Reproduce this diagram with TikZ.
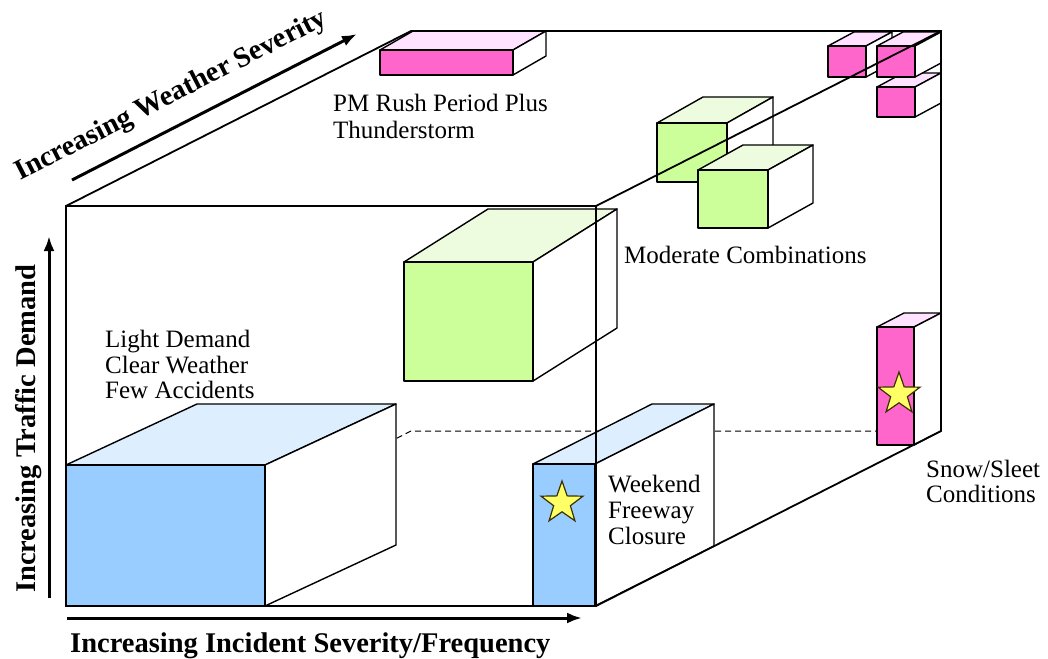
\documentclass[tikz,border=0pt]{standalone}
\usepackage{fontspec}
\setmainfont{Liberation Serif}
\usetikzlibrary{shapes.geometric,arrows.meta}
\definecolor{pinkfront}{HTML}{FF66CC}
\definecolor{pinktop}{HTML}{FFE2FF}
\definecolor{greenfront}{HTML}{CCFF99}
\definecolor{greentop}{HTML}{EDFCDF}
\definecolor{bluefront}{HTML}{99CCFF}
\definecolor{bluetop}{HTML}{DDEEFF}
\definecolor{staryellow}{HTML}{FFFF66}
\definecolor{starline}{HTML}{3A3000}
% #1 x1, #2 y1 (front top-left), #3 x2, #4 y2 (front bottom-right), #5 dx, #6 dy (depth), #7 front colour, #8 top colour
\newcommand{\isobox}[8]{%
  \filldraw[boxedge, fill=#8] (#1,#2) -- ({#1+#5},{#2+#6}) -- ({#3+#5},{#2+#6}) -- (#3,#2) -- cycle;
  \filldraw[boxedge, fill=white] (#3,#2) -- ({#3+#5},{#2+#6}) -- ({#3+#5},{#4+#6}) -- (#3,#4) -- cycle;
  \filldraw[boxedge, fill=#7] (#1,#2) rectangle (#3,#4);
}
\begin{document}
\begin{tikzpicture}[x=1pt,y=-1pt,
  boxedge/.style={draw=black, line width=1.4pt, line join=round},
  frameline/.style={line width=1.8pt, line cap=round},
  frontline/.style={line width=2.4pt, line join=miter},
  hiddenline/.style={line width=1pt, dash pattern=on 6pt off 4pt},
  lbl/.style={font=\fontsize{25}{26}\selectfont, inner sep=0pt, anchor=base west},
  axislbl/.style={font=\fontsize{28.5}{30}\selectfont\bfseries, inner sep=0pt, anchor=base west},
  axisarrow/.style={line width=3pt, -{Latex[length=15pt,width=11pt]}},
  starmark/.style={star, star points=5, star point ratio=2.5, fill=staryellow, draw=starline, line width=1.2pt, minimum size=44pt, inner sep=0pt}]
\useasboundingbox (0,0) rectangle (1048,658);

% frame corners
\coordinate (ftl) at (66,206);
\coordinate (ftr) at (596,206);
\coordinate (fbl) at (66,606);
\coordinate (fbr) at (596,606);
\coordinate (btl) at (411,31);
\coordinate (btr) at (941,31);
\coordinate (bbl) at (411,431);
\coordinate (bbr) at (941,431);

% hidden edges
\draw[hiddenline] (bbr) -- (bbl) -- (fbl);

% boxes, back to front
\isobox{877}{87}{915}{117}{26}{-14}{pinkfront}{pinktop}
\isobox{828}{46}{866}{77}{26}{-14}{pinkfront}{pinktop}
\isobox{877}{46}{915}{77}{26}{-14}{pinkfront}{pinktop}
\isobox{380}{50}{513}{75}{33}{-19}{pinkfront}{pinktop}
\isobox{657}{123}{727}{182}{46}{-26}{greenfront}{greentop}
\isobox{698}{170}{768}{228}{45}{-25}{greenfront}{greentop}
\isobox{404}{262}{533}{381}{84}{-53}{greenfront}{greentop}
\isobox{877}{327}{914}{445}{27}{-14}{pinkfront}{pinktop}
\isobox{533}{464}{595}{606}{119}{-60}{bluefront}{bluetop}
\isobox{66}{465}{265}{606}{131}{-61}{bluefront}{bluetop}

% visible frame edges
\draw[frameline] (ftl) -- (btl) -- (btr) -- (bbr);
\draw[frameline] (ftr) -- (btr);
\draw[frameline] (fbr) -- (bbr);
\draw[frontline] (ftl) -- (ftr) -- (fbr) -- (fbl) -- cycle;

% stars
\node[starmark] (star1) at (562,503) {};
\node[starmark] (star2) at (899,394) {};

% labels
\node[lbl] (pm1) at (333,112) {PM Rush Period Plus};
\node[lbl] (pm2) at (333,138) {Thunderstorm};
\node[lbl] (mod) at (624,263) {Moderate Combinations};
\node[lbl] (light1) at (105,347) {Light Demand};
\node[lbl] (light2) at (105,373) {Clear Weather};
\node[lbl] (light3) at (105,398) {Few Accidents};
\node[lbl] (wk1) at (608,492) {Weekend};
\node[lbl] (wk2) at (608,518) {Freeway};
\node[lbl] (wk3) at (608,544) {Closure};
\node[lbl] (snow1) at (926,477) {Snow/Sleet};
\node[lbl] (snow2) at (926,502) {Conditions};

% axes
\coordinate (ax1s) at (67,618);
\coordinate (ax1e) at (582,618);
\coordinate (ax2s) at (49,598);
\coordinate (ax2e) at (49,236);
\coordinate (ax3s) at (72,180);
\coordinate (ax3e) at (357,34);
\draw[axisarrow] (ax1s) -- (ax1e);
\draw[axisarrow] (ax2s) -- (ax2e);
\draw[axisarrow] (ax3s) -- (ax3e);
\node[axislbl] (xlab) at (70,652) {Increasing Incident Severity/Frequency};
\node[axislbl, rotate=90] (ylab) at (35,593) {Increasing Traffic Demand};
\node[axislbl, rotate=27] (zlab) at (20,181) {Increasing Weather Severity};
\end{tikzpicture}
\end{document}
